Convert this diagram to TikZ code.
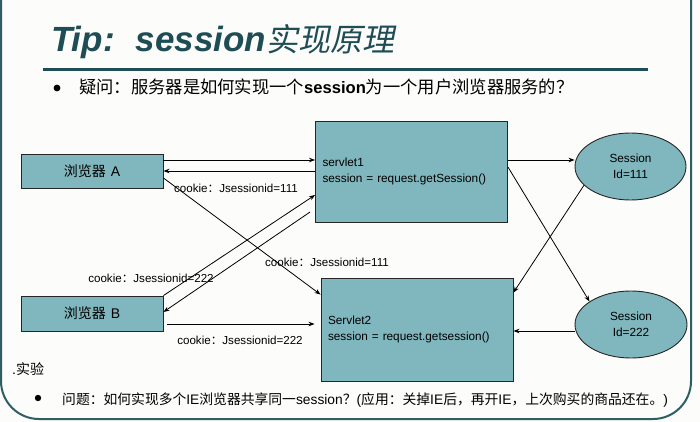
\documentclass[tikz,border=0pt]{standalone}
\usepackage{fontspec}
\setmainfont{Liberation Sans}
\newfontfamily\cjk{Noto Sans CJK SC}
\newfontfamily\cjkslant[FakeSlant=0.2]{Noto Sans CJK SC}
\usetikzlibrary{shapes.geometric,arrows.meta}

\definecolor{pagebg}{HTML}{FCFCFA}
\definecolor{boxfill}{HTML}{80B6BD}
\definecolor{titlecol}{HTML}{1E4D55}
\definecolor{framecol}{HTML}{2D5E63}

\newcommand{\zhtxt}[1]{{\cjk #1}}
\newcommand{\zhbig}[1]{{\cjk\fontsize{17.3}{19}\selectfont #1}}

\begin{document}
\begin{tikzpicture}[x=1pt,y=-1pt,
  boxnode/.style={draw=black!85, line width=0.9pt, fill=boxfill, inner sep=0pt},
  browser/.style={boxnode, minimum width=142pt, font=\fontsize{14}{16}\selectfont},
  servlet/.style={boxnode, inner xsep=7pt, text width=178pt, align=left,
                  font=\fontsize{11.8}{16.5}\selectfont},
  sess/.style={boxnode, ellipse, minimum width=111pt, minimum height=67pt,
               align=center, font=\fontsize{11.8}{16}\selectfont},
  lbl/.style={inner sep=0pt, font=\fontsize{11.6}{14}\selectfont},
  arr/.style={line width=0.8pt, -{Stealth[length=6pt,width=4.5pt]}}
]
\fill[pagebg] (0,0) rectangle (700,422);
\useasboundingbox (0,0) rectangle (700,422);

% slide frame with rounded lower corners
\draw[framecol, line width=2pt, rounded corners=38pt]
  (1,-20) -- (1,419) -- (691,419) -- (691,-20);

% heading and rule
\node[anchor=base west, inner sep=0pt, text=titlecol,
      font=\fontsize{35}{38}\selectfont\bfseries\itshape] (title) at (51,52)
  {Tip:\hspace{21pt}session{\cjkslant\mdseries\upshape\fontsize{32}{36}\selectfont 实现原理}};
\draw[titlecol, line width=3pt] (43,70) -- (648,70);

% question
\fill (57,88) circle (3.4pt);
\node[anchor=base west, inner sep=0pt, font=\fontsize{16.6}{19}\selectfont] (q1) at (79,94)
  {\zhbig{疑问：服务器是如何实现一个}\textbf{session}\zhbig{为一个用户浏览器服务的？}};

% browsers
\node[browser, minimum height=34pt] (A) at (92,171) {\zhtxt{浏览器}\hspace{5pt}A};
\node[browser, minimum height=35pt] (B) at (92,313.5) {\zhtxt{浏览器}\hspace{5pt}B};

% servlets
\node[servlet, minimum height=101pt] (s1) at (411.5,171.5)
  {servlet1\\session = request.getSession()};
\node[servlet, minimum height=103pt] (s2) at (417,329.5)
  {Servlet2\\session = request.getsession()};

% sessions
\node[sess] (e1) at (630.5,166.5) {Session\\Id=111};
\node[sess, minimum width=112pt] (e2) at (631,324.5) {Session\\Id=222};

% browser A <-> servlets
\draw[arr] ([yshift=11pt]A.east) -- ([yshift=11pt]A.east -| s1.west);
\draw[arr] (s1.west |- A.east) -- (A.east);
\draw[arr] ([yshift=-7pt]A.east) -- ([yshift=-17pt]s2.north west);

% browser B <-> servlets
\draw[arr] (B.north east) -- ([yshift=-23.5pt]s1.west);
\draw[arr] ([xshift=-5pt,yshift=-40.5pt]s1.west) -- ([yshift=1.5pt]B.east);
\draw[arr] ([xshift=4pt,yshift=-10.5pt]B.east) -- ([xshift=-6pt,yshift=-10.5pt]B.east -| s2.west);

% servlets <-> sessions
\draw[arr] ([yshift=11.5pt]s1.east) -- ([yshift=11.5pt]s1.east -| e1.west);
\draw[arr] ([yshift=4.5pt]s1.east) -- (e2.151);
\draw[arr] (e1.202) -- ([yshift=-15pt]s2.north east);
\draw[arr] ([yshift=-6.5pt]e2.west) -- ([yshift=-6.5pt]e2.west -| s2.east);

% cookie labels
\node[lbl] (c1) at (236,188) {cookie\zhtxt{：}Jsessionid=111};
\node[lbl] (c2) at (327,262) {cookie\zhtxt{：}Jsessionid=111};
\node[lbl] (c3) at (151,278) {cookie\zhtxt{：}Jsessionid=222};
\node[lbl] (c4) at (240,340) {cookie\zhtxt{：}Jsessionid=222};

% experiment note
\node[anchor=base west, inner sep=0pt, font=\fontsize{14}{16}\selectfont] (exp) at (12,374)
  {.\zhtxt{实验}};
\fill (38,398) circle (3.2pt);
\node[anchor=base west, inner sep=0pt, font=\fontsize{13.8}{16}\selectfont] (q2) at (62,404)
  {\zhtxt{问题：如何实现多个}IE\zhtxt{浏览器共享同一}session\zhtxt{？}(\zhtxt{应用：关掉}IE\zhtxt{后，再开}IE\zhtxt{，上次购买的商品还在。})};
\end{tikzpicture}
\end{document}
